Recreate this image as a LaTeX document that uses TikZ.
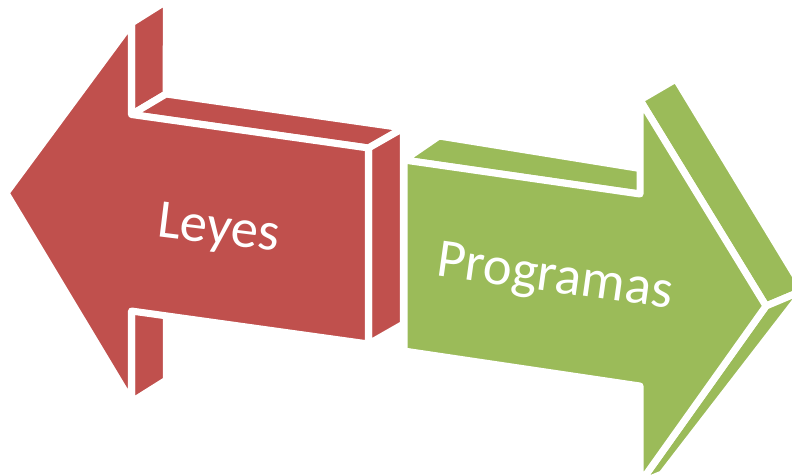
\documentclass[tikz,border=0pt]{standalone}
\usepackage{fontspec}
\setmainfont{Carlito}
\usepackage{tikz}

\definecolor{leyesred}{HTML}{C0504D}
\definecolor{proggreen}{HTML}{9BBB59}
\tikzset{
  face/.style={draw=white,line width=2pt,line join=round},
  arrowtext/.style={text=white,font=\fontsize{15.6}{18}\selectfont,anchor=base,inner sep=0pt}
}

\begin{document}
\begin{tikzpicture}
          \useasboundingbox (0,0) rectangle (7.92,4.75);
          \clip (0,0) rectangle (7.92,4.75);
          % left arrow, front corners
          \coordinate (rA) at (0.06,2.82);
          \coordinate (rB) at (1.315,4.52);
          \coordinate (rC) at (1.315,3.605);
          \coordinate (rD) at (3.685,3.27);
          \coordinate (rE) at (3.685,1.31);
          \coordinate (rF) at (1.315,1.64);
          \coordinate (rG) at (1.315,0.73);
          % left arrow, back corners
          \coordinate (rBb) at (1.665,4.74);
          \coordinate (rCb) at (1.66,3.81);
          \coordinate (rDb) at (4.035,3.47);
          \coordinate (rEb) at (4.035,1.51);
          \coordinate (rFb) at (1.665,1.85);
          \coordinate (rGb) at (1.665,0.95);
          \path[face,fill=leyesred] (rB)--(rC)--(rCb)--(rBb)--cycle;
          \path[face,fill=leyesred] (rF)--(rG)--(rGb)--(rFb)--cycle;
          \path[face,fill=leyesred] (rC)--(rD)--(rDb)--(rCb)--cycle;
          \path[face,fill=leyesred] (rD)--(rE)--(rEb)--(rDb)--cycle;
          \path[face,fill=leyesred] (rA)--(rB)--(rC)--(rD)--(rE)--(rF)--(rG)--cycle;
          \node[arrowtext,rotate=-7] (leyes) at (2.17,2.31) {Leyes};
          % right arrow, front corners
          \coordinate (gP) at (4.04,3.15);
          \coordinate (gQ) at (6.40,2.81);
          \coordinate (gH) at (6.40,3.75);
          \coordinate (gT) at (7.66,1.69);
          \coordinate (gK) at (6.40,-0.08);
          \coordinate (gL) at (6.40,0.89);
          \coordinate (gM) at (4.04,1.24);
          % right arrow, back corners
          \coordinate (gPb) at (4.39,3.39);
          \coordinate (gQb) at (6.74,3.01);
          \coordinate (gHb) at (6.76,3.96);
          \coordinate (gTb) at (8.04,1.85);
          \coordinate (gKb) at (6.62,0.01);
          \path[face,fill=proggreen] (gP)--(gQ)--(gQb)--(gPb)--cycle;
          \path[face,fill=proggreen] (gH)--(gT)--(gTb)--(gHb)--cycle;
          \path[face,fill=proggreen] (gT)--(gK)--(gKb)--(gTb)--cycle;
          \path[face,fill=proggreen] (gP)--(gQ)--(gH)--(gT)--(gK)--(gL)--(gM)--cycle;
          \node[arrowtext,rotate=-8] (programas) at (5.53,1.83) {Programas};
        \end{tikzpicture}
\end{document}
